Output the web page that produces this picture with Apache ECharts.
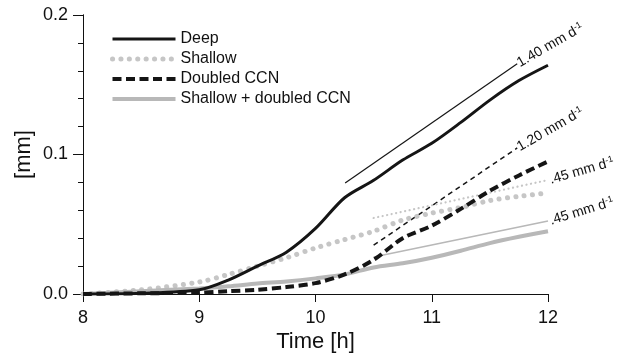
<!DOCTYPE html>
<html>
<head>
<meta charset="utf-8">
<script src="https://cdn.jsdelivr.net/npm/echarts@6/dist/echarts.min.js"></script>
<style>
html,body{margin:0;padding:0;background:#fff;}
#chart{width:628px;height:359px;}
</style>
</head>
<body>
<div id="chart"></div>
<script>
var times = [8, 8.5, 9, 9.25, 9.5, 9.75, 10, 10.25, 10.5, 10.75, 11, 11.25, 11.5, 11.75, 12];
var deep = [0, 0.0005, 0.003, 0.010, 0.020, 0.030, 0.047, 0.069, 0.0815, 0.096, 0.108, 0.123, 0.139, 0.153, 0.164];
var shallow = [0, 0.003, 0.0086, 0.014, 0.020, 0.026, 0.033, 0.039, 0.045, 0.053, 0.058, 0.062, 0.067, 0.070, 0.0725];
var doubledCCN = [0, 0.0005, 0.001, 0.002, 0.003, 0.005, 0.0078, 0.014, 0.0245, 0.040, 0.049, 0.061, 0.074, 0.085, 0.095];
var shallowCCN = [0, 0.002, 0.004, 0.0055, 0.0075, 0.009, 0.0112, 0.014, 0.019, 0.022, 0.026, 0.031, 0.0365, 0.041, 0.045];

var deepRefT = [10.255, 11.735], deepRefV = [0.0796, 0.165];
var ccnRefT = [10.5, 11.735], ccnRefV = [0.035, 0.1047];
var shallowRefT = [10.5, 12], shallowRefV = [0.0545, 0.0817];
var bothRefT = [10.5, 12], bothRefV = [0.0265, 0.0523];

var rateLabels = ['1.40', '1.20', '.45', '.45'];
var names = ['Deep', 'Shallow', 'Doubled CCN', 'Shallow + doubled CCN'];

var FONT = '"Liberation Sans", Arial, Helvetica, sans-serif';
var BLACK = '#151515', DOTGRAY = '#c6c6c6', GRAY = '#b8b8b8';

function pairs(t, v) { return t.map(function (x, i) { return [x, v[i]]; }); }

var styles = [
  { color: BLACK, width: 3, type: 'solid' },
  { color: DOTGRAY, width: 5, type: [0.1, 8.3], cap: 'round' },
  { color: BLACK, width: 4, type: [9, 4.5] },
  { color: GRAY, width: 4, type: 'solid' }
];

function mainSeries(i, vals, z) {
  return { name: names[i], type: 'line', data: pairs(times, vals), symbol: 'none', smooth: 0.3,
    lineStyle: styles[i], itemStyle: { color: styles[i].color }, z: z };
}

function refSeries(t, v, text, rot, dist, ls) {
  return { type: 'line', data: pairs(t, v), symbol: 'none',
    lineStyle: ls, itemStyle: { color: ls.color },
    endLabel: {
      show: true, distance: dist, rotate: rot,
      formatter: text + ' mm d{s|-1}',
      fontFamily: FONT, fontSize: 14, color: '#111',
      rich: { s: { fontSize: 9, verticalAlign: 'top', padding: [0, 0, 6, 0], fontFamily: FONT, color: '#111' } }
    },
    silent: true, clip: false, z: 2 };
}

var axisBase = {
  axisLine: { show: true, onZero: false, lineStyle: { color: '#111', width: 1 } },
  splitLine: { show: false }
};

var chart = echarts.init(document.getElementById('chart'), null, { renderer: 'canvas' });
var option = {
  animation: false,
  backgroundColor: '#fff',
  grid: { left: 83, right: 80, top: 15, bottom: 65, containLabel: false },
  legend: {
    data: names.map(function (n, i) {
      return { name: n, lineStyle: styles[i], itemStyle: { opacity: 0, borderWidth: 0 } };
    }),
    orient: 'vertical',
    left: 110,
    top: 31,
    padding: 0,
    itemWidth: 63,
    itemHeight: 14,
    itemGap: 4,
    itemStyle: { opacity: 0, borderWidth: 0 },
    textStyle: { fontFamily: FONT, fontSize: 16, color: '#111' }
  },
  xAxis: Object.assign({
    type: 'value', min: 8, max: 12, interval: 1,
    name: 'Time [h]', nameLocation: 'middle', nameGap: 37, nameMoveOverlap: false,
    nameTextStyle: { fontFamily: FONT, fontSize: 22, color: '#111' },
    axisTick: { show: true, length: 8, lineStyle: { color: '#111' } },
    axisLabel: { margin: 15, fontFamily: FONT, fontSize: 18, color: '#111' }
  }, axisBase),
  yAxis: [
    Object.assign({
      type: 'value', min: 0, max: 0.2, interval: 0.1, position: 'left',
      name: '[mm]', nameLocation: 'middle', nameGap: 48, nameMoveOverlap: false,
      nameTextStyle: { fontFamily: FONT, fontSize: 22, color: '#111' },
      axisTick: { show: true, length: 10, lineStyle: { color: '#111' } },
      axisLabel: { margin: 15, fontFamily: FONT, fontSize: 18, color: '#111',
        formatter: function (v) { return v.toFixed(1); } }
    }, axisBase),
    Object.assign({
      type: 'value', min: 0, max: 0.2, interval: 0.02, position: 'left', offset: 0,
      axisTick: { show: true, length: 5, lineStyle: { color: '#111' } },
      axisLabel: { show: false }
    }, axisBase)
  ],
  series: [
    mainSeries(0, deep, 5),
    mainSeries(1, shallow, 3),
    mainSeries(2, doubledCCN, 6),
    mainSeries(3, shallowCCN, 4),
    refSeries(deepRefT, deepRefV, rateLabels[0], 30, 1, { color: BLACK, width: 1.2 }),
    refSeries(ccnRefT, ccnRefV, rateLabels[1], 30, 1, { color: BLACK, width: 1.5, type: [5, 4] }),
    refSeries(shallowRefT, shallowRefV, rateLabels[2], 16, 2, { color: DOTGRAY, width: 2.2, type: [0.1, 4.5], cap: 'round' }),
    refSeries(bothRefT, bothRefV, rateLabels[3], 17, 2, { color: GRAY, width: 1.5 })
  ]
};
chart.setOption(option);
</script>
</body>
</html>
